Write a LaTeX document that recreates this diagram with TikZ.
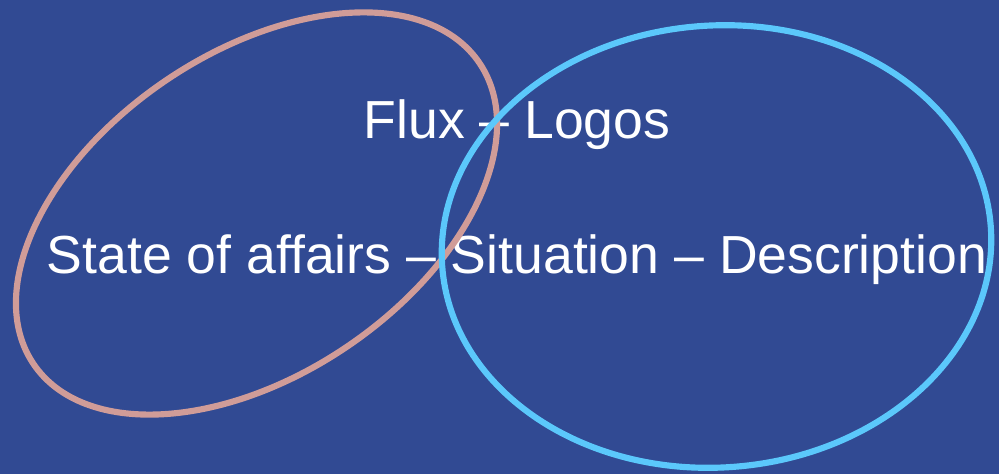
\documentclass[tikz,border=0pt]{standalone}
\usepackage{fontspec}
\setmainfont{Liberation Sans}
\usepackage{tikz}

\begin{document}
\begin{tikzpicture}[x=0.02cm,y=0.02cm,
  lbl/.style={text=white,inner sep=0pt,anchor=base,font=\fontsize{30.5}{36}\selectfont},
  ring/.style={line width=3.5pt}]
\definecolor{bgColor}{RGB}{49,74,147}
\definecolor{pinkColor}{RGB}{208,156,152}
\definecolor{skyColor}{RGB}{91,200,251}
\fill[bgColor] (0,0) rectangle (999,474);
\useasboundingbox (0,0) rectangle (999,474);
\node[lbl] (flux) at (517,336) {Flux -- Logos};
\node[lbl] (state) at (517,201) {State of affairs -- Situation -- Description};
\coordinate (pinkCenter) at (256.5,260.5);
\coordinate (skyCenter) at (716.5,227.5);
\draw[ring,color=pinkColor,rotate around={34:(pinkCenter)}] (pinkCenter) ellipse [x radius=269, y radius=161];
\draw[ring,color=skyColor,rotate around={4:(skyCenter)}] (skyCenter) ellipse [x radius=275, y radius=221];
\end{tikzpicture}
\end{document}
